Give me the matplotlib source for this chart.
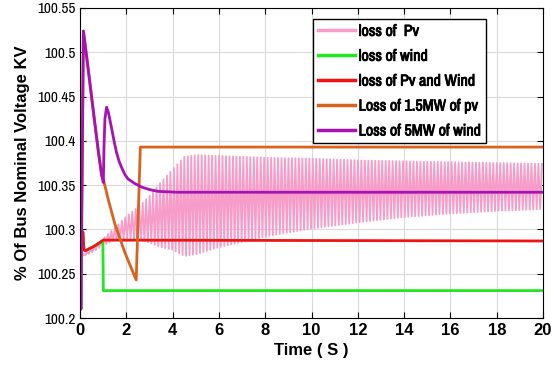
import numpy as np
import matplotlib
matplotlib.use("Agg")
import matplotlib.pyplot as plt
import matplotlib.patheffects as pe

plt.rcParams['font.family'] = ['Liberation Sans', 'DejaVu Sans']
narrow = ['Archivo Narrow', 'Liberation Sans', 'DejaVu Sans']

# --- data ---
# loss of Pv : oscillation envelope
pv_t = [0, 0.5, 1, 1.5, 2, 2.5, 3, 3.5, 4, 4.5, 5, 6, 8, 10, 12, 14, 16, 18, 20]
pv_upper = [100.270, 100.278, 100.290, 100.302, 100.315, 100.325, 100.338, 100.354, 100.368, 100.382,
            100.384, 100.383, 100.381, 100.380, 100.378, 100.377, 100.376, 100.375, 100.374]
pv_lower = [100.268, 100.274, 100.282, 100.288, 100.290, 100.289, 100.285, 100.280, 100.277, 100.270,
            100.272, 100.280, 100.292, 100.301, 100.308, 100.314, 100.318, 100.321, 100.323]
pv_period = 0.15

# loss of wind
wind_t = [0, 0.12, 0.16, 0.22, 0.6, 0.98, 1.0, 20]
wind_v = [100.30, 100.297, 100.277, 100.276, 100.281, 100.287, 100.231, 100.231]

# loss of Pv and Wind
both_t = [0, 0.12, 0.16, 0.22, 0.6, 1.0, 20]
both_v = [100.30, 100.297, 100.277, 100.276, 100.281, 100.288, 100.287]

# loss of 5MW of wind
w5_t = [0, 0.03, 0.14, 0.36, 0.57, 0.79, 0.93, 1.0, 1.03, 1.07, 1.14, 1.22, 1.36, 1.47, 1.57, 1.68,
        1.79, 1.93, 2.07, 2.35, 2.64, 3.0, 3.36, 4.2, 20]
w5_v = [100.36, 100.21, 100.524, 100.478, 100.433, 100.387, 100.361, 100.353, 100.395, 100.425, 100.438,
        100.432, 100.414, 100.399, 100.387, 100.377, 100.370, 100.362, 100.357, 100.352, 100.348, 100.345,
        100.343, 100.342, 100.342]

# loss of 1.5MW of pv
pv15_t = [0, 0.03, 0.14, 0.36, 0.57, 0.79, 0.93, 1.0, 1.21, 1.5, 1.93, 2.42, 2.6, 20]
pv15_v = [100.36, 100.21, 100.524, 100.478, 100.433, 100.387, 100.361, 100.357, 100.334, 100.306,
          100.274, 100.243, 100.393, 100.393]

yticks = [100.2, 100.25, 100.3, 100.35, 100.4, 100.45, 100.5, 100.55]
ytick_labels = ['100.2', '100.25', '100.3', '100.35', '100.4', '100.45', '100.5', '100.55']
xticks = list(range(0, 21, 2))

# zigzag between the envelope values for the oscillating trace
half = np.arange(0, 20 + 1e-9, pv_period / 2)
up = np.interp(half, pv_t, pv_upper)
lo = np.interp(half, pv_t, pv_lower)
osc = np.where(np.arange(len(half)) % 2 == 0, up, lo)

fig = plt.figure(figsize=(5.53, 3.80), dpi=100)
ax = fig.add_axes([0.145, 0.163, 0.837, 0.816])

ax.plot(half, osc, color='#F79BC9', lw=1.3, label='loss of  Pv')
ax.plot(wind_t, wind_v, color='#22E622', lw=2.0, label='loss of wind')
ax.plot(both_t, both_v, color='#EE1414', lw=2.0, label='loss of Pv and Wind')
ax.plot(pv15_t, pv15_v, color='#D9621E', lw=2.0, label='Loss of 1.5MW of pv')
ax.plot(w5_t, w5_v, color='#A812B4', lw=2.0, label='Loss of 5MW of wind')

ax.set_xlim(0, 20)
ax.set_ylim(100.2, 100.55)
ax.set_xticks(xticks)
ax.set_yticks(yticks)
ax.set_yticklabels(ytick_labels, family=narrow)
ax.tick_params(axis='y', labelsize=11, direction='in', right=True, length=4)
ax.tick_params(axis='x', labelsize=12, direction='in', top=True, length=4)
for t in ax.get_xticklabels():
    t.set_fontweight('bold')
ax.grid(True, color='#DADADA', lw=0.8)
ax.set_axisbelow(True)

ax.set_xlabel('Time ( S )', fontsize=12, fontweight='bold')
ax.set_ylabel('% Of Bus Nominal Voltage KV', fontsize=12, fontweight='bold', labelpad=5)

leg = ax.legend(loc='upper right', bbox_to_anchor=(0.893, 0.99),
                prop={'size': 11.5, 'family': narrow},
                frameon=True, fancybox=False, edgecolor='black', framealpha=1,
                handlelength=2.3, handletextpad=0.25, labelspacing=0.62, borderpad=0.3)
for line in leg.get_lines():
    line.set_linewidth(2.5)
for txt in leg.get_texts():
    txt.set_path_effects([pe.withStroke(linewidth=0.6, foreground='black')])

fig.savefig('out.png', dpi=100)
